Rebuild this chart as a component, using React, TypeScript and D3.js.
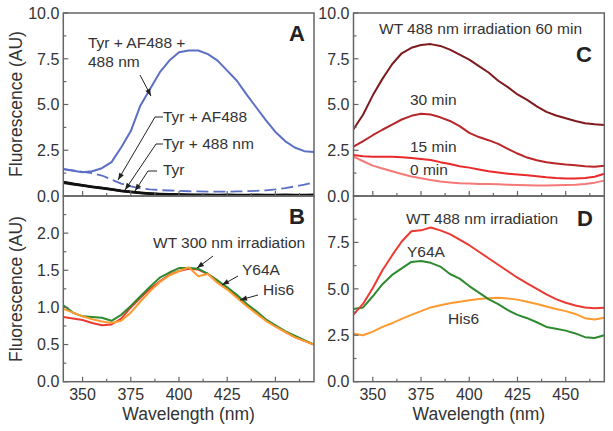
import React from "react";
import * as d3 from "d3";

const wavelengths = [340,345,350,355,360,365,370,375,380,385,390,395,400,405,410,415,420,425,430,435,440,445,450,455,460,465,470];

// Panel A
const aTyrAF488nm = [1.47,1.38,1.30,1.35,1.52,1.85,2.65,3.55,4.95,5.85,6.75,7.40,7.85,7.95,7.95,7.75,7.40,6.85,6.30,5.55,4.85,4.15,3.50,3.00,2.65,2.45,2.40];
const aTyrAF488 = [1.47,1.40,1.32,1.25,1.12,0.90,0.68,0.52,0.42,0.36,0.32,0.30,0.28,0.26,0.25,0.24,0.24,0.24,0.25,0.26,0.28,0.31,0.36,0.43,0.52,0.62,0.75];
const aTyr = [0.75,0.66,0.58,0.50,0.44,0.36,0.28,0.22,0.17,0.13,0.10,0.08,0.07,0.06,0.05,0.05,0.04,0.05,0.04,0.04,0.05,0.04,0.04,0.05,0.04,0.04,0.05];
const aTyr488 = [0.78,0.68,0.60,0.52,0.45,0.38,0.30,0.24,0.19,0.15,0.12,0.10,0.09,0.08,0.07,0.07,0.06,0.07,0.06,0.06,0.07,0.06,0.06,0.07,0.06,0.06,0.07];
const aTyrAFblack = [0.72,0.64,0.56,0.48,0.42,0.34,0.27,0.21,0.16,0.12,0.09,0.07,0.06,0.05,0.04,0.04,0.03,0.04,0.03,0.03,0.04,0.03,0.03,0.04,0.03,0.03,0.04];

// Panel B
const bWT = [0.87,0.85,0.83,0.79,0.76,0.77,0.85,1.00,1.13,1.25,1.35,1.44,1.49,1.52,1.51,1.45,1.36,1.26,1.15,1.04,0.93,0.83,0.75,0.67,0.60,0.55,0.50];
const bY64A = [1.03,0.93,0.88,0.87,0.86,0.82,0.90,1.02,1.15,1.28,1.40,1.47,1.53,1.53,1.52,1.45,1.36,1.27,1.17,1.05,0.95,0.84,0.76,0.68,0.62,0.56,0.50];
const bHis6 = [0.98,0.93,0.88,0.84,0.81,0.79,0.82,0.93,1.08,1.22,1.34,1.43,1.49,1.54,1.42,1.45,1.33,1.24,1.13,1.02,0.92,0.82,0.74,0.67,0.60,0.55,0.50];

// Panel C
const c60 = [3.65,4.45,5.50,6.40,7.20,7.80,8.10,8.25,8.30,8.20,8.00,7.72,7.45,7.10,6.75,6.30,5.95,5.55,5.25,4.90,4.60,4.40,4.25,4.10,3.98,3.92,3.88];
const c30 = [2.70,3.00,3.32,3.62,3.90,4.18,4.38,4.50,4.45,4.30,4.10,3.82,3.45,3.22,3.05,2.85,2.58,2.32,2.10,1.95,1.85,1.78,1.72,1.68,1.62,1.60,1.65];
const c15 = [2.24,2.17,2.15,2.15,2.15,2.12,2.08,2.02,1.97,1.85,1.75,1.63,1.55,1.45,1.35,1.28,1.22,1.18,1.14,1.08,1.02,0.98,0.96,0.96,0.98,1.05,1.22];
const c0 = [2.15,1.90,1.66,1.50,1.35,1.20,1.07,0.97,0.87,0.79,0.74,0.70,0.68,0.66,0.65,0.64,0.62,0.60,0.59,0.58,0.58,0.59,0.60,0.62,0.66,0.73,0.84];

// Panel D
const dWT = [3.61,4.20,5.05,6.00,6.80,7.55,8.10,8.15,8.30,8.15,7.95,7.65,7.35,7.00,6.65,6.30,5.95,5.60,5.30,5.00,4.70,4.45,4.25,4.10,4.00,3.95,3.98];
const dY64A = [3.92,4.00,4.60,5.25,5.75,6.10,6.45,6.50,6.40,6.20,5.80,5.55,5.15,4.80,4.45,4.18,3.85,3.60,3.42,3.20,2.95,2.85,2.75,2.60,2.40,2.35,2.50];
const dHis6 = [2.58,2.50,2.70,2.95,3.15,3.38,3.60,3.80,4.00,4.12,4.22,4.30,4.38,4.45,4.50,4.52,4.48,4.42,4.30,4.18,4.05,3.92,3.80,3.65,3.42,3.35,3.44];

const xTicks = [350,375,400,425,450];
const xMinorTicks = [362.5,387.5,412.5,437.5,462.5];
const yTicksBig = [0,2.5,5,7.5,10];
const yTicksSmall = [0,0.5,1,1.5,2,2.5];

const FONT = "'Liberation Sans', Arial, sans-serif";
const TXT = "#333";
const AXIS = "#666";

type Series = { values: number[]; color: string; width: number; dash?: string };
type PanelProps = {
  x0: number; x1: number; y0: number; y1: number;
  yMax: number; yTicks: number[]; yLabeled: number[];
  showXLabels: boolean; series: Series[];
};

function Panel(p: PanelProps) {
  const x = d3.scaleLinear().domain([340, 470]).range([p.x0, p.x1]);
  const y = d3.scaleLinear().domain([0, p.yMax]).range([p.y1, p.y0]);
  const line = (vals: number[]) =>
    d3.line<number>().x((_, i) => x(wavelengths[i])).y((v) => y(v))(vals) || "";
  const fmt = d3.format(".1f");
  const step = p.yTicks[1] - p.yTicks[0];
  const yMinor = p.yTicks.slice(0, -1).map((t) => t + step / 2);
  const clipId = `clip-${Math.round(p.x0)}-${Math.round(p.y0)}`;
  return (
    <g>
      <defs>
        <clipPath id={clipId}>
          <rect x={p.x0} y={p.y0} width={p.x1 - p.x0} height={p.y1 - p.y0} />
        </clipPath>
      </defs>
      <g clipPath={`url(#${clipId})`}>
        {p.series.map((s, i) => (
          <path key={i} d={line(s.values)} fill="none" stroke={s.color} strokeWidth={s.width}
            strokeDasharray={s.dash} strokeLinejoin="round" />
        ))}
      </g>
      <rect x={p.x0} y={p.y0} width={p.x1 - p.x0} height={p.y1 - p.y0} fill="none" stroke={AXIS} strokeWidth={1.5} />
      {xTicks.map((t) => (
        <line key={"xt" + t} x1={x(t)} x2={x(t)} y1={p.y1} y2={p.y1 - 5} stroke={AXIS} strokeWidth={1.2} />
      ))}
      {xMinorTicks.map((t) => (
        <line key={"xm" + t} x1={x(t)} x2={x(t)} y1={p.y1} y2={p.y1 - 3} stroke={AXIS} strokeWidth={1.2} />
      ))}
      {p.yTicks.map((t) => (
        <line key={"yt" + t} x1={p.x0} x2={p.x0 + 5} y1={y(t)} y2={y(t)} stroke={AXIS} strokeWidth={1.2} />
      ))}
      {yMinor.map((t) => (
        <line key={"ym" + t} x1={p.x0} x2={p.x0 + 3} y1={y(t)} y2={y(t)} stroke={AXIS} strokeWidth={1.2} />
      ))}
      {p.yLabeled.map((t) => (
        <text key={"yl" + t} x={p.x0 - 4} y={y(t)} dy="0.36em" textAnchor="end" fontSize={16} fill={TXT}>
          {fmt(t)}
        </text>
      ))}
      {p.showXLabels && xTicks.map((t) => (
        <text key={"xl" + t} x={x(t)} y={p.y1 + 18.5} textAnchor="middle" fontSize={16} fill={TXT}>
          {t}
        </text>
      ))}
      {p.showXLabels && (
        <text x={(p.x0 + p.x1) / 2} y={p.y1 + 38} textAnchor="middle" fontSize={17.5} fill={TXT}>
          Wavelength (nm)
        </text>
      )}
    </g>
  );
}

function Arrow({ pts }: { pts: [number, number][] }) {
  const d = d3.line()(pts) || "";
  const [ax, ay] = pts[pts.length - 2];
  const [bx, by] = pts[pts.length - 1];
  const ang = Math.atan2(by - ay, bx - ax);
  const L = 7, W = 2.6;
  const p1 = [bx - L * Math.cos(ang) + W * Math.sin(ang), by - L * Math.sin(ang) - W * Math.cos(ang)];
  const p2 = [bx - L * Math.cos(ang) - W * Math.sin(ang), by - L * Math.sin(ang) + W * Math.cos(ang)];
  return (
    <g>
      <path d={d} fill="none" stroke="#222" strokeWidth={1} />
      <path d={`M${bx},${by}L${p1[0]},${p1[1]}L${p2[0]},${p2[1]}Z`} fill="#222" />
    </g>
  );
}

export default function App() {
  const blue = "#5b6fc4";
  const red = "#ec3a33";
  const green = "#2f8a2f";
  const orange = "#ff9a30";
  return (
    <svg width={613} height={431} style={{ position: "absolute", left: 0, top: 0, background: "#fff" }}
      fontFamily={FONT}>
      <rect width={613} height={431} fill="#fff" />
      <Panel x0={63.3} x1={314} y0={13} y1={196} yMax={10} yTicks={yTicksBig} yLabeled={yTicksBig}
        showXLabels={false}
        series={[
          { values: aTyrAF488, color: blue, width: 1.8, dash: "12,5" },
          { values: aTyrAFblack, color: "#111", width: 2.2 },
          { values: aTyr488, color: "#111", width: 2.2 },
          { values: aTyr, color: "#111", width: 2.2 },
          { values: aTyrAF488nm, color: blue, width: 2 },
        ]} />
      <Panel x0={63.3} x1={314} y0={196} y1={381.7} yMax={2.5} yTicks={yTicksSmall} yLabeled={yTicksSmall.slice(0, 5)}
        showXLabels={true}
        series={[
          { values: bWT, color: red, width: 2 },
          { values: bY64A, color: green, width: 2 },
          { values: bHis6, color: orange, width: 2 },
        ]} />
      <Panel x0={353.5} x1={604.3} y0={13} y1={196} yMax={10} yTicks={yTicksBig} yLabeled={yTicksBig}
        showXLabels={false}
        series={[
          { values: c0, color: "#f47a78", width: 2 },
          { values: c15, color: "#e82a2a", width: 2 },
          { values: c30, color: "#b8262a", width: 2 },
          { values: c60, color: "#7e1b1e", width: 2 },
        ]} />
      <Panel x0={353.5} x1={604.3} y0={196} y1={381.7} yMax={10} yTicks={yTicksBig} yLabeled={yTicksBig.slice(0, 4)}
        showXLabels={true}
        series={[
          { values: dHis6, color: orange, width: 2 },
          { values: dY64A, color: green, width: 2 },
          { values: dWT, color: red, width: 2 },
        ]} />

      {/* Y axis titles */}
      <text transform="translate(22,104) rotate(-90)" textAnchor="middle" fontSize={17.5} fill={TXT}>Fluorescence (AU)</text>
      <text transform="translate(22,289) rotate(-90)" textAnchor="middle" fontSize={17.5} fill={TXT}>Fluorescence (AU)</text>

      {/* Panel letters */}
      <text x={297} y={41} textAnchor="middle" fontSize={22} fontWeight="bold" fill="#222">A</text>
      <text x={297} y={224} textAnchor="middle" fontSize={22} fontWeight="bold" fill="#222">B</text>
      <text x={584} y={62} textAnchor="middle" fontSize={22} fontWeight="bold" fill="#222">C</text>
      <text x={585} y={226} textAnchor="middle" fontSize={22} fontWeight="bold" fill="#222">D</text>

      {/* Panel A annotations */}
      <text x={88} y={48} fontSize={15.5} fill={TXT}>Tyr + AF488 +</text>
      <text x={88} y={67} fontSize={15.5} fill={TXT}>488 nm</text>
      <Arrow pts={[[140, 75], [151, 96]]} />
      <text x={163} y={122} fontSize={15.5} fill={TXT}>Tyr + AF488</text>
      <Arrow pts={[[163, 117], [155, 117], [118, 180]]} />
      <text x={163} y={149} fontSize={15.5} fill={TXT}>Tyr + 488 nm</text>
      <Arrow pts={[[163, 144], [156, 144], [125, 190]]} />
      <text x={163} y={175} fontSize={15.5} fill={TXT}>Tyr</text>
      <Arrow pts={[[157, 171], [148, 171], [135, 191]]} />

      {/* Panel B annotations */}
      <text x={153} y={248} fontSize={15.5} fill={TXT}>WT 300 nm irradiation</text>
      <Arrow pts={[[213, 256], [197, 268]]} />
      <text x={242} y={275} fontSize={15.5} fill={TXT}>Y64A</text>
      <Arrow pts={[[238, 276], [222, 285]]} />
      <text x={263} y={295} fontSize={15.5} fill={TXT}>His6</text>
      <Arrow pts={[[258, 295], [240, 300]]} />

      {/* Panel C annotations */}
      <text x={379} y={34} fontSize={15.5} fill={TXT}>WT 488 nm irradiation 60 min</text>
      <text x={410} y={105} fontSize={15.5} fill={TXT}>30 min</text>
      <text x={410} y={152} fontSize={15.5} fill={TXT}>15 min</text>
      <text x={410} y={175} fontSize={15.5} fill={TXT}>0 min</text>

      {/* Panel D annotations */}
      <text x={406} y={224} fontSize={15.5} fill={TXT}>WT 488 nm irradiation</text>
      <text x={407} y={257} fontSize={15.5} fill={TXT}>Y64A</text>
      <text x={448} y={324} fontSize={15.5} fill={TXT}>His6</text>
    </svg>
  );
}
